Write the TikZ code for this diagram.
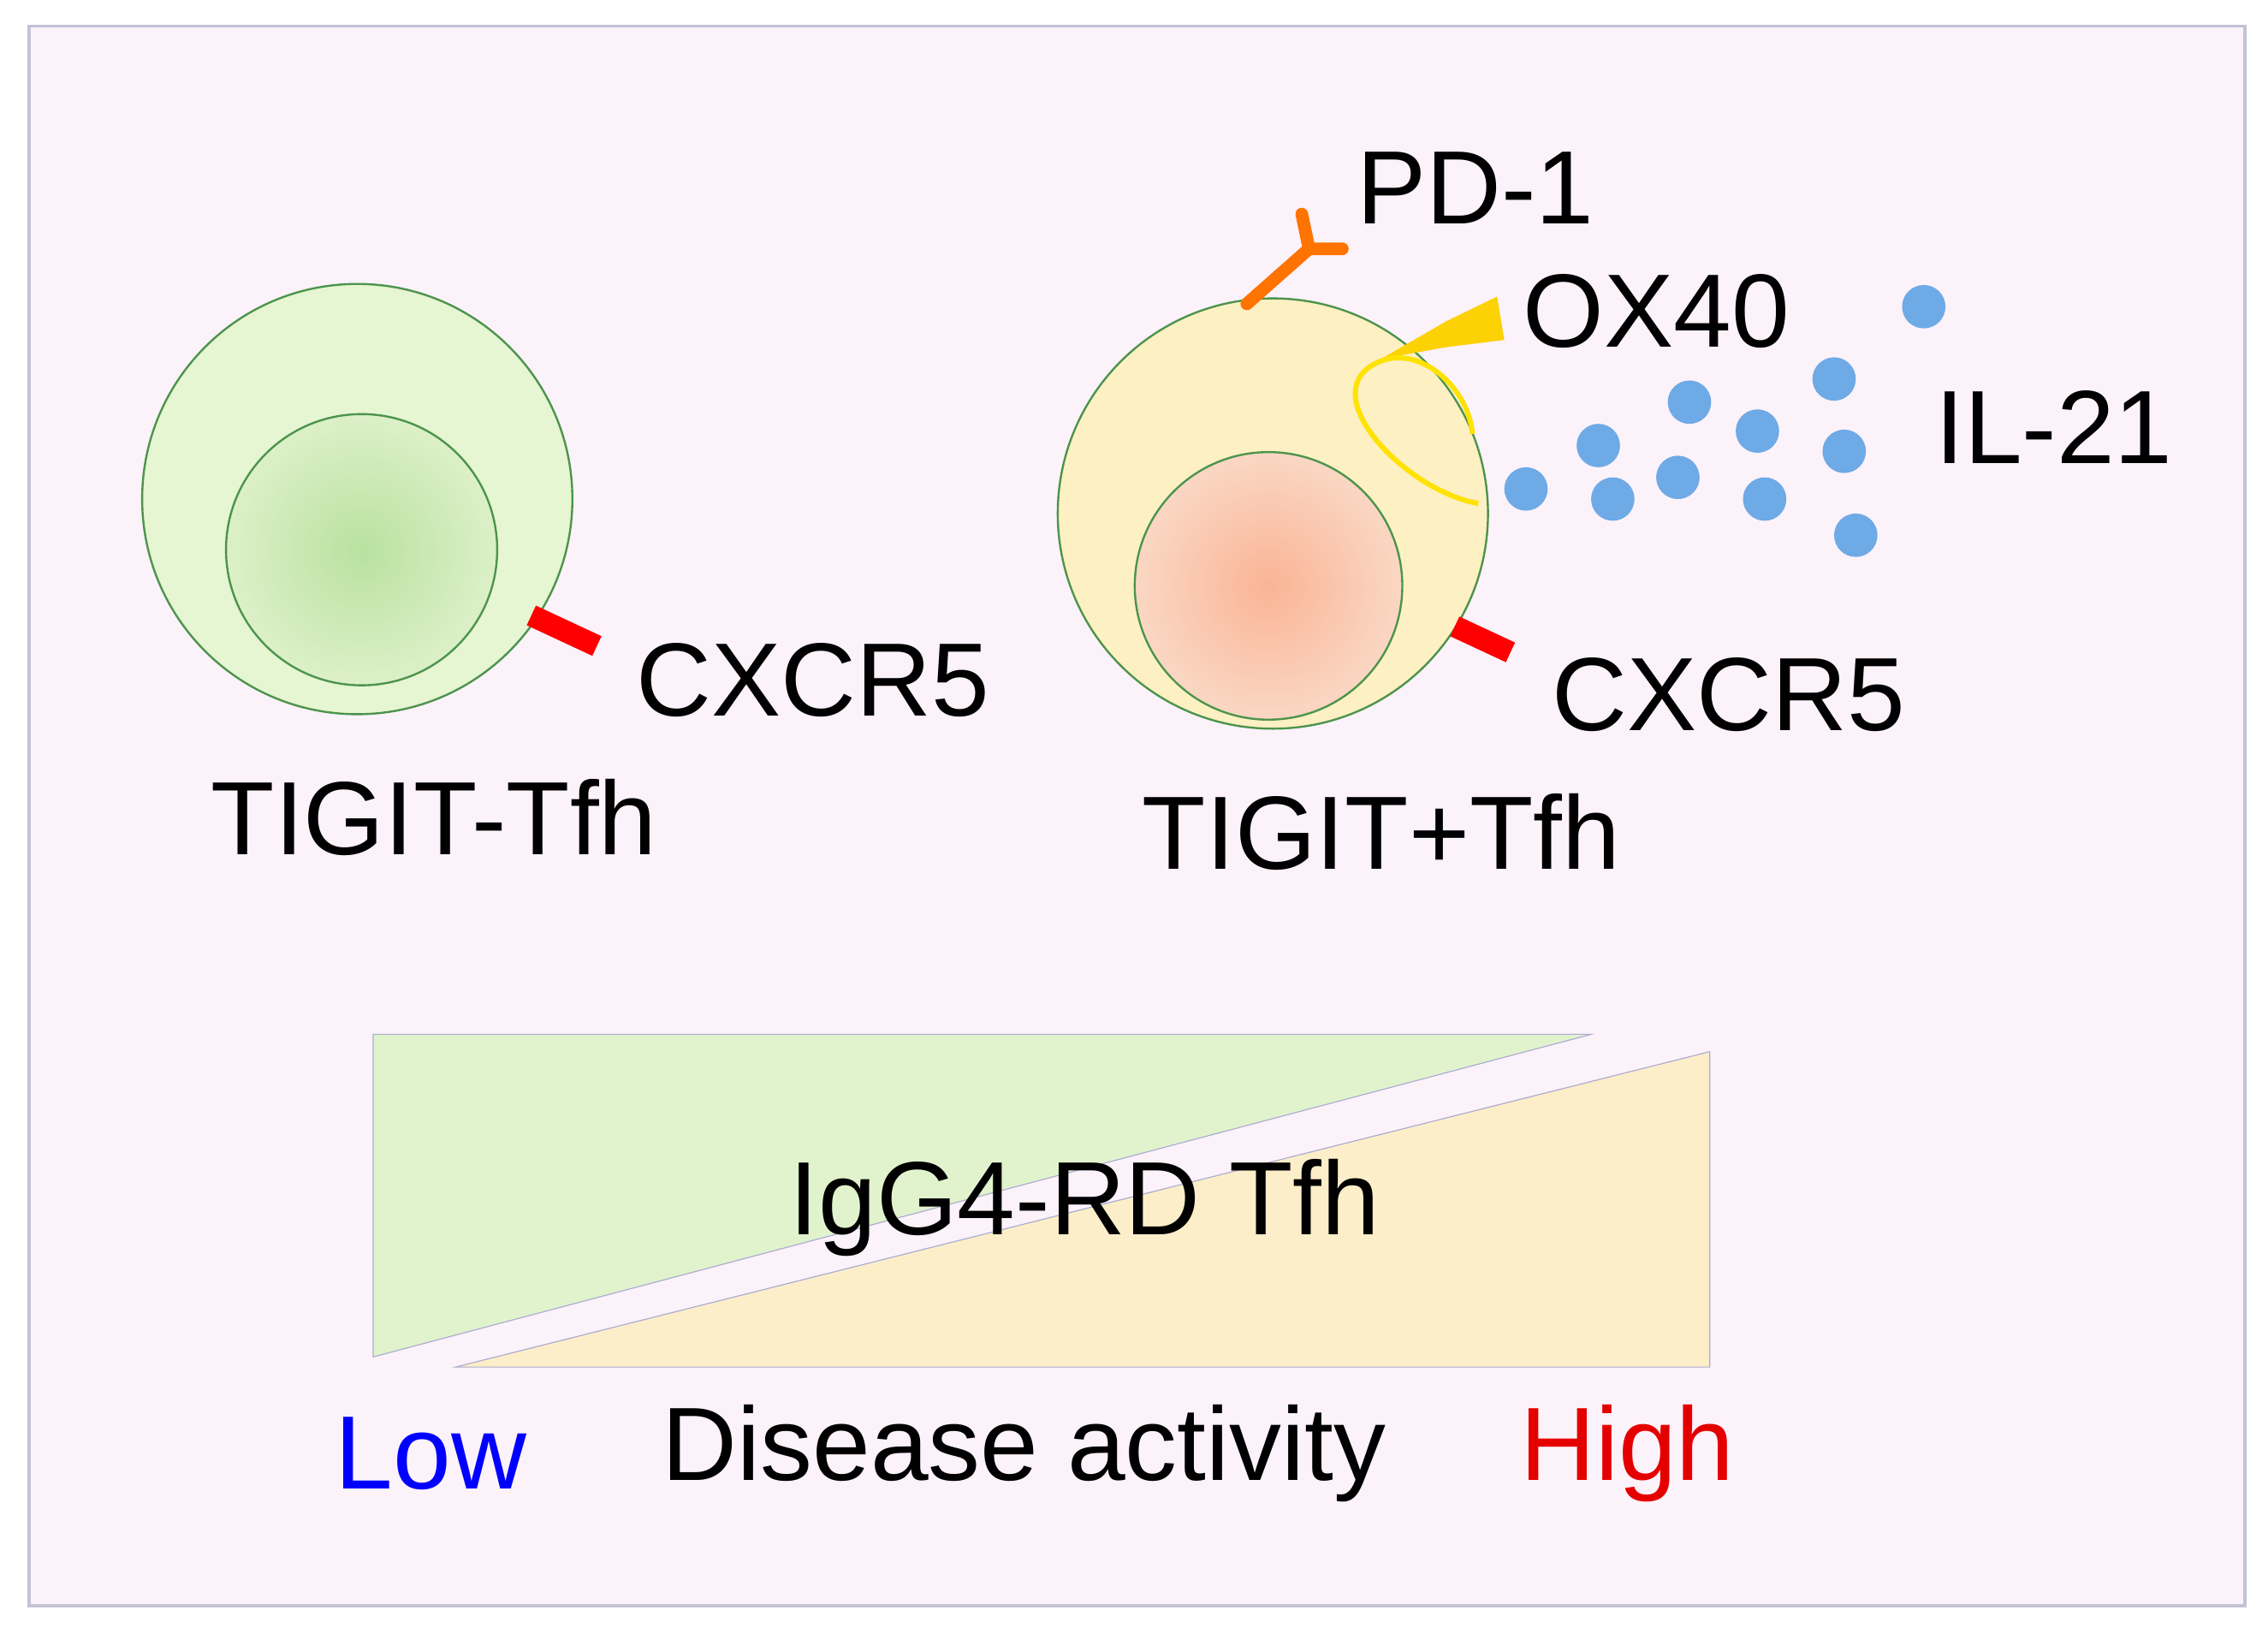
\documentclass[tikz,border=0pt]{standalone}
\usepackage{fontspec}
\setmainfont{Liberation Sans}
\begin{document}
\begin{tikzpicture}[x=0.02cm,y=-0.02cm,
  lab/.style={font=\fontsize{41}{45}\selectfont,inner sep=0pt},
  cellline/.style={draw=black!60!green!70,line width=0.8pt},
  dot/.style={circle,fill={rgb,255:red,110;green,170;blue,230},minimum size=0.6cm,inner sep=0pt}]
\useasboundingbox (0,0) rectangle (1568,1125);
\node[draw=blue!20!gray!40,line width=1.2pt,fill={rgb,255:red,252;green,242;blue,250},minimum width=30.64cm,minimum height=21.84cm,inner sep=0pt] (bg) at (786,564) {};
% left cell
\node[circle,cellline,fill={rgb,255:red,230;green,245;blue,210},minimum size=5.95cm] (c1) at (247,345) {};
\node[circle,cellline,inner color={rgb,255:red,185;green,225;blue,160},outer color={rgb,255:red,220;green,240;blue,200},minimum size=3.75cm] (n1) at (250,380) {};
\node[fill=red,minimum width=1cm,minimum height=0.3cm,rotate=-25,inner sep=0pt] (r1) at (390,436) {};
\node[lab] (l1) at (562,470) {CXCR5};
\node[lab] (t1) at (300,565) {TIGIT-Tfh};
% right cell
\node[circle,cellline,fill={rgb,255:red,253;green,240;blue,195},minimum size=5.95cm] (c2) at (880,355) {};
\node[circle,cellline,inner color={rgb,255:red,250;green,180;blue,150},outer color={rgb,255:red,250;green,215;blue,195},minimum size=3.7cm] (n2) at (877,405) {};
\node[fill=red,minimum width=0.85cm,minimum height=0.3cm,rotate=-25,inner sep=0pt] (r2) at (1025,442) {};
\node[lab] (l2) at (1195,480) {CXCR5};
\node[lab] (t2) at (955,575) {TIGIT+Tfh};
% PD-1
\coordinate (p0) at (862,210);
\coordinate (p1) at (905,172);
\draw[orange!90!red,line width=5pt,line cap=round] (p0) -- (p1) (p1) -- (900,148) (p1) -- (928,172);
\node[lab] (pd) at (1020,130) {PD-1};
% OX40
\fill[yellow!70!orange] (955,248) -- (1000,222) -- (1035,205) -- (1040,235) -- (1000,240) -- cycle;
\draw[yellow!85!orange,line width=2pt] (1022,348) .. controls (975,340) and (915,280) .. (945,255) .. controls (975,232) and (1015,265) .. (1018,300);
\node[lab] (ox) at (1145,215) {OX40};
% IL-21
\foreach \x/\y [count=\i] in {1330/212,1268/262,1168/278,1215/298,1105/308,1275/312,1160/330,1055/338,1115/345,1220/345,1283/370}
  \node[dot] (d\i) at (\x,\y) {};
\node[lab] (il) at (1420,295) {IL-21};
% triangles
\filldraw[fill={rgb,255:red,225;green,243;blue,205},draw=blue!30!gray!50] (258,715) -- (1100,715) -- (258,938) -- cycle;
\filldraw[fill={rgb,255:red,252;green,238;blue,200},draw=blue!30!gray!50] (315,945) -- (1182,727) -- (1182,945) -- cycle;
\node[lab] (ig) at (750,835) {IgG4-RD Tfh};
\node[lab,text=blue] (lo) at (298,1005) {Low};
\node[lab] (da) at (708,1005) {Disease activity};
\node[lab,text=red!90!black] (hi) at (1125,1005) {High};
\end{tikzpicture}
\end{document}
